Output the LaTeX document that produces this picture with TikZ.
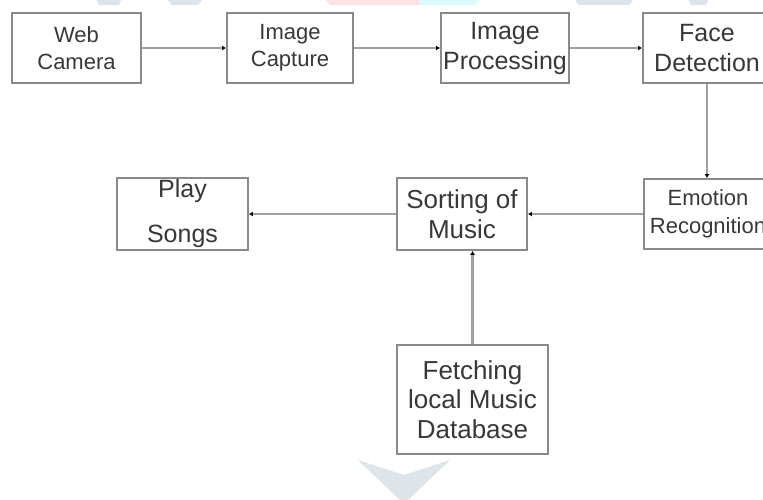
\documentclass[tikz,border=0pt]{standalone}
\usepackage{fontspec}
\setmainfont{Liberation Sans}
\usetikzlibrary{arrows.meta}
\definecolor{boxgray}{HTML}{8A8A8A}
\definecolor{linegray}{HTML}{A0A0A0}
\definecolor{txtgray}{HTML}{383838}
\definecolor{markgray}{HTML}{DDE4EA}
\definecolor{markpink}{HTML}{FDE1E4}
\definecolor{markcyan}{HTML}{DFFAFC}
\begin{document}
\begin{tikzpicture}[x=1pt,y=-1pt,
  stage/.style={draw=boxgray,line width=1.8pt,fill=white,align=center,
    text=txtgray,inner sep=0pt,minimum height=70pt},
  flow/.style={draw=linegray,line width=2.2pt,-{Latex[black,length=4pt,width=5pt]}}]
\clip (0,0) rectangle (763,499);
\fill[white] (0,0) rectangle (763,499);

% Faint watermark pieces
\fill[markgray] (97,0) -- (121,0) -- (119,5) -- (99,5) -- cycle;
\fill[markgray] (168,0) -- (202,0) -- (198,5) -- (172,5) -- cycle;
\fill[markpink] (326,0) -- (419,0) -- (419,5) -- (330,5) -- cycle;
\fill[markcyan] (419,0) -- (480,0) -- (476,5) -- (419,5) -- cycle;
\fill[markgray] (575,0) -- (633,0) -- (629,5) -- (579,5) -- cycle;
\fill[markgray] (689,0) -- (708,0) -- (706,5) -- (691,5) -- cycle;
\fill[markgray] (358,460) -- (404,475) -- (450,460) -- (404,504) -- cycle;

% Top row
\node[stage,minimum width=129pt,font=\fontsize{22}{27}\selectfont] (cam) at (76.5,48) {Web\\Camera};
\node[stage,minimum width=126pt,font=\fontsize{22}{27}\selectfont] (cap) at (290,48) {Image\\Capture};
\node[stage,minimum width=128pt,font=\fontsize{25}{30}\selectfont] (proc) at (505,48) {Image\\Processing};
\node[stage,minimum width=128pt,font=\fontsize{25}{30}\selectfont] (face) at (707,48) {Face\\Detection};

% Middle row
\node[stage,minimum width=128pt,font=\fontsize{22}{28}\selectfont] (emo) at (708,214) {Emotion\\Recognition};
\node[stage,minimum width=130pt,minimum height=72pt,font=\fontsize{26}{30}\selectfont] (sort) at (462,214) {Sorting of\\Music};
\node[stage,minimum width=131pt,minimum height=72pt,font=\fontsize{25}{45}\selectfont] (play) at (182.5,214) {Play\\Songs};

% Bottom
\node[stage,minimum width=151pt,minimum height=109pt,font=\fontsize{26}{29.5}\selectfont] (fetch) at (472.5,399.5) {Fetching\\local Music\\Database};

% Connectors
\draw[flow] (cam) -- (cap);
\draw[flow] (cap) -- (proc);
\draw[flow] (proc) -- (face);
\draw[flow] (face.south) -- (face.south |- emo.north);
\draw[flow] (emo) -- (sort);
\draw[flow] (sort) -- (play);
\draw[flow] (fetch.north) -- (fetch.north |- sort.south);
\end{tikzpicture}
\end{document}
